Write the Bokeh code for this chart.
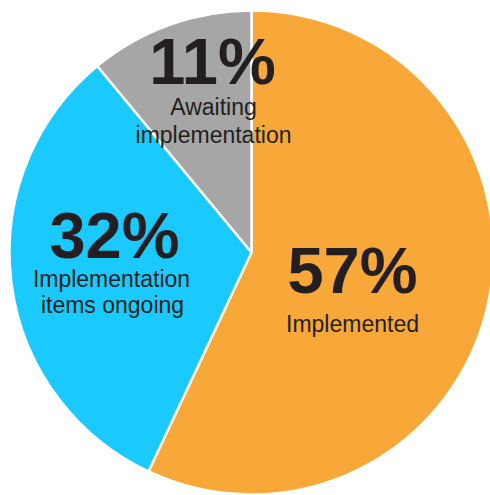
import math
from bokeh.plotting import figure
from bokeh.models import Range1d, ColumnDataSource
from bokeh.core.properties import value
from bokeh.embed import file_html
from bokeh.resources import INLINE

# ---- data ----
categories = ["Implemented", "Implementation items ongoing", "Awaiting implementation"]
shares = [57, 32, 11]
colors = ["#F8A839", "#1ACAFE", "#A6A6A6"]
pct_labels = ["57%", "32%", "11%"]
desc_lines = [["Implemented"], ["Implementation", "items ongoing"], ["Awaiting", "implementation"]]

# ---- layout ----
W, H = 490, 495
cx, cy, R = 251, 243, 242
PCT_SIZE = 65
DESC_SIZE = 23

def py(y_top, size):
    # convert top-down baseline pixel position to data y (empirical baseline offset)
    return H - (y_top - 0.38 * size)

# label layout (center x, baseline y from top)
pct_pos = [(352, 295), (114, 260), (212, 86)]
desc_pos = [[(352, 332)], [(111, 287), (112, 313)], [(213, 115), (213, 143)]]

total = float(sum(shares))
starts, ends = [], []
cum = 0.0
for s in shares:
    starts.append(math.pi / 2 - 2 * math.pi * cum / total)
    cum += s
    ends.append(math.pi / 2 - 2 * math.pi * cum / total)

src = ColumnDataSource(dict(x=[cx] * len(shares), y=[cy] * len(shares),
                            start=starts, end=ends, color=colors, cat=categories))

p = figure(width=W, height=H, output_backend="svg", toolbar_location=None,
           x_range=Range1d(0, W), y_range=Range1d(0, H),
           min_border=0, min_border_left=0, min_border_right=0,
           min_border_top=0, min_border_bottom=0)
p.axis.visible = False
p.grid.visible = False
p.outline_line_color = None
p.background_fill_color = "white"
p.border_fill_color = "white"

p.wedge(x="x", y="y", radius=R, start_angle="start", end_angle="end",
        direction="clock", fill_color="color", line_color="white",
        line_width=2.5, source=src)

for lab, (x, y) in zip(pct_labels, pct_pos):
    p.text(x=[x], y=[py(y, PCT_SIZE)], text=[lab], text_align="center",
           text_baseline="alphabetic", text_font=value("Liberation Sans"),
           text_font_style="bold", text_font_size=f"{PCT_SIZE}px", text_color="#231F20")

for lines, poss in zip(desc_lines, desc_pos):
    for t, (x, y) in zip(lines, poss):
        p.text(x=[x], y=[py(y, DESC_SIZE)], text=[t], text_align="center",
               text_baseline="alphabetic", text_font=value("Liberation Sans"),
               text_font_size=f"{DESC_SIZE}px", text_color="#231F20")

open("out.html", "w").write(file_html(p, INLINE))
